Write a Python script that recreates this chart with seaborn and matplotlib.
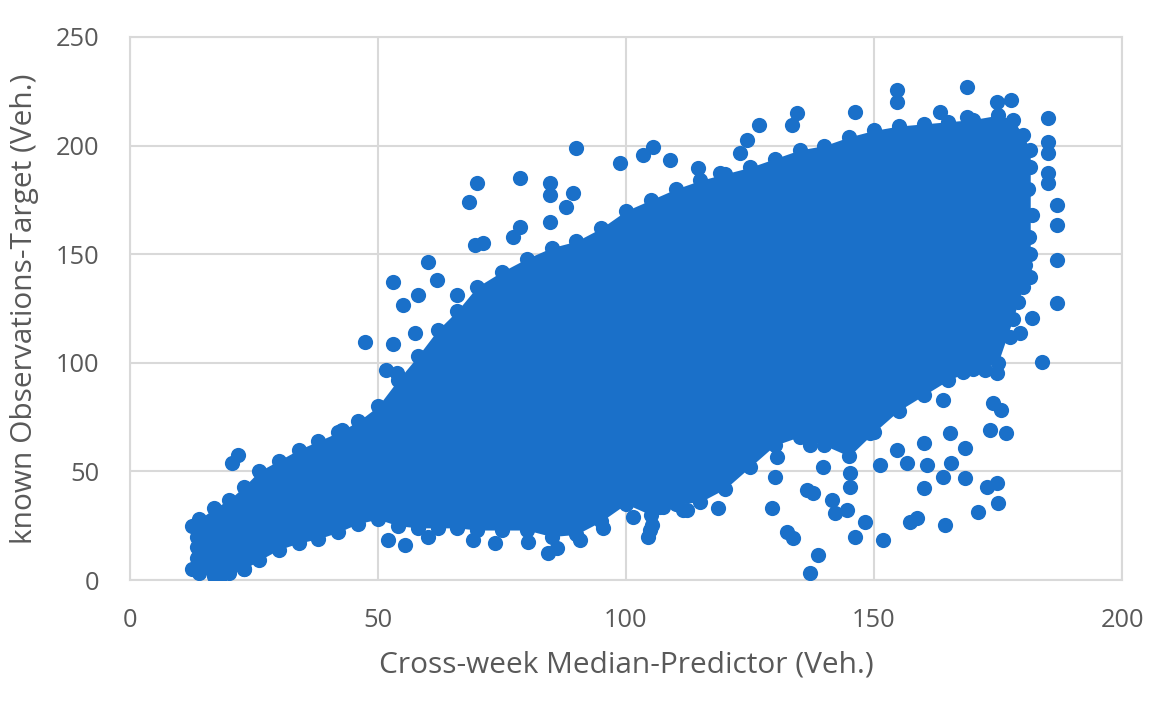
import numpy as np
import pandas as pd
import matplotlib
matplotlib.use("Agg")
import matplotlib.pyplot as plt
import seaborn as sns

# dense core of the cloud: outline (x, lower y, upper y)
core_x = [12.5, 14, 17, 20, 23, 26, 30, 34, 38, 42, 46, 50, 54, 58, 62, 66, 70, 75, 80, 85,
          90, 95, 100, 105, 110, 115, 120, 125, 130, 135, 140, 145, 150, 155, 160, 165, 170,
          175, 178, 180, 181.5]
core_low = [5, 3, 2, 3, 5, 9, 14, 17, 19, 22, 26, 28, 25, 24, 24, 24, 23, 23, 23, 20,
            21, 27, 35, 30, 35, 36, 42, 52, 62, 66, 62, 57, 68, 78, 85, 92, 97,
            100, 120, 135, 150]
core_high = [25, 28, 33, 37, 43, 50, 55, 60, 64, 68, 73, 80, 92, 103, 115, 124, 135, 142, 148, 153,
             156, 162, 170, 175, 180, 184, 187, 190, 194, 198, 200, 204, 207, 209, 210, 211, 212,
             214, 212, 205, 198]

# isolated points around the core
out_x = [20.5, 21.8, 42.7, 47.4, 53.0, 51.7, 53.8, 57.5, 55.1, 58.1, 53.0, 60.1, 61.8, 65.9,
         69.6, 71.2, 68.4, 69.9, 77.3, 78.6, 78.6, 84.7, 84.7, 84.7, 88.0, 89.4, 90.0, 98.8,
         103.5, 105.5, 108.9, 114.6, 119.0, 123.0, 124.3, 126.9, 133.4, 134.4, 146.2, 154.6,
         154.6, 163.3, 168.7, 168.7, 174.7, 177.7,
         185.1, 185.1, 185.1, 185.1, 185.1, 186.8, 186.8, 186.8, 181.5, 186.8, 181.8, 179.4, 183.8,
         174.7, 172.4, 174.0, 175.7, 173.4, 176.7, 168.3, 168.3, 172.7, 174.7, 175.0, 171.0, 164.3,
         165.6, 164.0, 160.0, 160.6, 157.3, 158.6, 151.9, 146.2, 148.2, 142.1, 141.5, 144.5, 138.8,
         137.1, 133.7, 132.4, 129.4, 136.4, 137.8, 130.0, 130.4, 137.1, 145.2, 145.2, 139.8, 151.2,
         156.6, 118.6, 111.5, 106.9, 104.8, 168.0, 164.0, 165.3, 160.0, 154.6, 149.2,
         52.1, 55.4, 60.1, 69.2, 73.6, 80.3, 84.3, 86.0, 90.7, 95.4, 101.5, 104.5, 105.2, 107.5,
         112.2, 18.0, 17.5, 23.0, 13.5, 13.5, 13.5,
         181.5, 181.0, 181.8, 181.2, 180.5, 179.0, 177.5]
out_y = [53.7, 57.5, 69.0, 109.7, 108.7, 96.7, 95.3, 113.6, 126.6, 131.0, 137.3, 146.5, 138.0, 131.2,
         154.2, 155.0, 174.2, 182.6, 158.0, 162.7, 184.9, 165.0, 177.3, 182.6, 171.9, 178.0, 198.8, 191.8,
         195.7, 199.5, 193.4, 189.5, 187.2, 196.4, 202.6, 209.5, 209.5, 214.9, 215.6, 220.2,
         225.6, 215.6, 213.3, 227.1, 220.2, 221.0,
         212.5, 201.8, 196.4, 187.2, 182.6, 172.6, 163.4, 147.3, 139.6, 127.4, 120.5, 113.6, 100.5,
         95.2, 96.7, 81.4, 78.3, 69.1, 67.5, 60.6, 46.8, 43.0, 44.5, 35.3, 31.4, 25.3,
         53.7, 47.6, 42.2, 52.9, 26.8, 28.4, 18.4, 19.9, 26.8, 30.7, 36.8, 32.2, 11.5,
         3.1, 19.2, 22.2, 33.0, 41.4, 39.9, 47.6, 56.8, 62.2, 43.0, 49.1, 52.2, 52.9,
         53.7, 33.0, 32.2, 33.7, 23.0, 95.9, 82.9, 67.5, 62.9, 59.9, 67.5,
         18.4, 16.1, 19.9, 18.4, 16.9, 17.6, 12.3, 14.6, 18.4, 23.8, 29.1, 19.9, 25.3, 33.7,
         32.2, 0.5, 2.0, 5.0, 10.0, 15.0, 20.0,
         190.0, 180.0, 168.0, 158.0, 145.0, 128.0, 112.0]

x_ticks = [0, 50, 100, 150, 200]
y_ticks = [0, 50, 100, 150, 200, 250]

blue = "#1a70c9"
grid_c = "#d9d9d9"
text_c = "#595959"

sns.set_style("white")
plt.rcParams['font.family'] = ['Open Sans', 'DejaVu Sans']

fig = plt.figure(figsize=(11.59, 7.03), dpi=100)
ax = fig.add_axes([130 / 1159, 1 - 580 / 703, 992 / 1159, 543 / 703])

ax.fill_between(core_x, core_low, core_high, color=blue, linewidth=0, zorder=2)

pts = pd.DataFrame({"x": core_x + core_x + out_x,
                    "y": core_low + core_high + out_y})
sns.scatterplot(data=pts, x="x", y="y", color=blue, s=120, linewidth=0, ax=ax, zorder=3)

ax.set_xlim(0, 200)
ax.set_ylim(0, 250)
ax.set_xticks(x_ticks)
ax.set_yticks(y_ticks)
ax.grid(True, color=grid_c, linewidth=1.5, zorder=0)
ax.set_axisbelow(True)
for sp in ax.spines.values():
    sp.set_color(grid_c)
    sp.set_linewidth(1.5)
ax.tick_params(axis="both", length=0, labelsize=18.3, labelcolor=text_c)
ax.tick_params(axis="x", pad=20)
ax.tick_params(axis="y", pad=22)

ax.set_xlabel("Cross-week Median-Predictor (Veh.)", fontsize=21.5, color=text_c, labelpad=13)
ax.set_ylabel("known Observations-Target (Veh.)", fontsize=21.5, color=text_c, labelpad=12)

fig.savefig("out.png", dpi=100)
